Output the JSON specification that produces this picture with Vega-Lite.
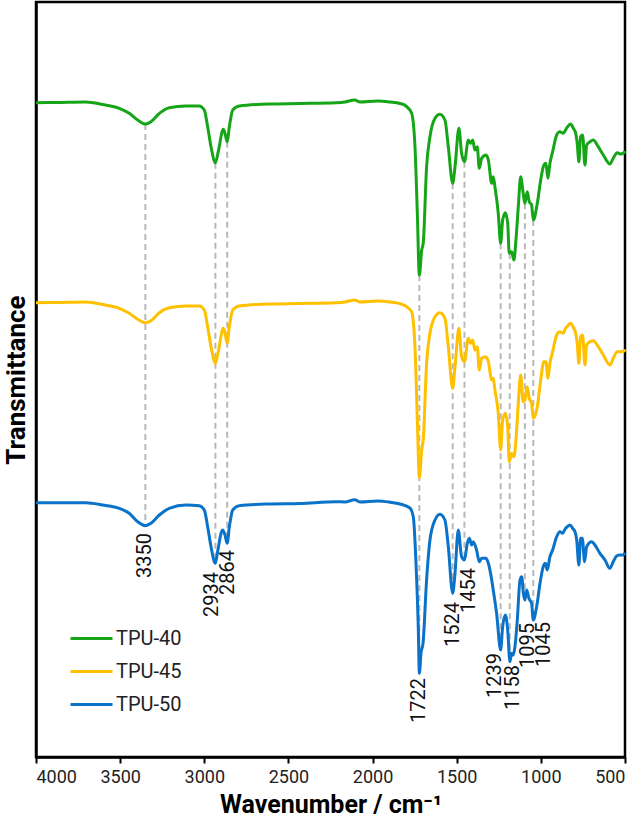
{
  "$schema": "https://vega.github.io/schema/vega-lite/v6.json",
  "width": 589,
  "height": 755,
  "autosize": {"type": "none"},
  "padding": {"left": 36, "top": 2, "right": 16, "bottom": 72},
  "background": "white",
  "config": {
    "view": {"stroke": "black", "strokeWidth": 2.5},
    "font": "Roboto",
    "axis": {"grid": false, "domainColor": "black", "domainWidth": 2.5, "tickColor": "black", "tickWidth": 2, "tickSize": 6, "labelColor": "#222222", "titleColor": "black"}
  },
  "datasets": {
    "curves": [
      {"s":"TPU-40","wn":4000,"t":654.3},{"s":"TPU-40","wn":3881,"t":654.5},{"s":"TPU-40","wn":3703,"t":655},{"s":"TPU-40","wn":3604,"t":652.5},{"s":"TPU-40","wn":3505,"t":648.7},{"s":"TPU-40","wn":3446,"t":643.7},{"s":"TPU-40","wn":3396,"t":637},{"s":"TPU-40","wn":3350,"t":633},{"s":"TPU-40","wn":3317,"t":635.3},{"s":"TPU-40","wn":3267,"t":643.7},{"s":"TPU-40","wn":3208,"t":649.3},{"s":"TPU-40","wn":3109,"t":651},{"s":"TPU-40","wn":3030,"t":651},{"s":"TPU-40","wn":3000,"t":647},{"s":"TPU-40","wn":2980,"t":630.3},{"s":"TPU-40","wn":2960,"t":610.3},{"s":"TPU-40","wn":2934,"t":594.3},{"s":"TPU-40","wn":2917,"t":605.3},{"s":"TPU-40","wn":2887,"t":627.7},{"s":"TPU-40","wn":2877,"t":623.7},{"s":"TPU-40","wn":2864,"t":615.3},{"s":"TPU-40","wn":2851,"t":630.3},{"s":"TPU-40","wn":2831,"t":647},{"s":"TPU-40","wn":2792,"t":651},{"s":"TPU-40","wn":2614,"t":653},{"s":"TPU-40","wn":2431,"t":653.5},{"s":"TPU-40","wn":2218,"t":654.3},{"s":"TPU-40","wn":2164,"t":655},{"s":"TPU-40","wn":2106,"t":657},{"s":"TPU-40","wn":2075,"t":655},{"s":"TPU-40","wn":1970,"t":656},{"s":"TPU-40","wn":1897,"t":655},{"s":"TPU-40","wn":1837,"t":653.5},{"s":"TPU-40","wn":1802,"t":651},{"s":"TPU-40","wn":1768,"t":643.7},{"s":"TPU-40","wn":1748,"t":610.3},{"s":"TPU-40","wn":1734,"t":543.7},{"s":"TPU-40","wn":1722,"t":482},{"s":"TPU-40","wn":1708,"t":507},{"s":"TPU-40","wn":1699,"t":513.7},{"s":"TPU-40","wn":1679,"t":590.3},{"s":"TPU-40","wn":1659,"t":620.3},{"s":"TPU-40","wn":1629,"t":638.7},{"s":"TPU-40","wn":1600,"t":642.7},{"s":"TPU-40","wn":1570,"t":637},{"s":"TPU-40","wn":1550,"t":610.3},{"s":"TPU-40","wn":1524,"t":573.7},{"s":"TPU-40","wn":1510,"t":590.3},{"s":"TPU-40","wn":1487,"t":628.7},{"s":"TPU-40","wn":1471,"t":603.7},{"s":"TPU-40","wn":1454,"t":595.3},{"s":"TPU-40","wn":1431,"t":617},{"s":"TPU-40","wn":1417,"t":613.7},{"s":"TPU-40","wn":1405,"t":617},{"s":"TPU-40","wn":1392,"t":607},{"s":"TPU-40","wn":1378,"t":610.3},{"s":"TPU-40","wn":1366,"t":588.7},{"s":"TPU-40","wn":1352,"t":598.7},{"s":"TPU-40","wn":1326,"t":602},{"s":"TPU-40","wn":1312,"t":597},{"s":"TPU-40","wn":1292,"t":573.7},{"s":"TPU-40","wn":1283,"t":580.3},{"s":"TPU-40","wn":1273,"t":570.3},{"s":"TPU-40","wn":1253,"t":543.7},{"s":"TPU-40","wn":1239,"t":513.7},{"s":"TPU-40","wn":1227,"t":537},{"s":"TPU-40","wn":1211,"t":544.3},{"s":"TPU-40","wn":1197,"t":533.7},{"s":"TPU-40","wn":1188,"t":503.7},{"s":"TPU-40","wn":1174,"t":505.3},{"s":"TPU-40","wn":1160,"t":497},{"s":"TPU-40","wn":1148,"t":517},{"s":"TPU-40","wn":1134,"t":550.3},{"s":"TPU-40","wn":1120,"t":580.3},{"s":"TPU-40","wn":1105,"t":563.7},{"s":"TPU-40","wn":1095,"t":553.7},{"s":"TPU-40","wn":1081,"t":565.3},{"s":"TPU-40","wn":1069,"t":555.3},{"s":"TPU-40","wn":1055,"t":552},{"s":"TPU-40","wn":1045,"t":537},{"s":"TPU-40","wn":1021,"t":553.7},{"s":"TPU-40","wn":1001,"t":577},{"s":"TPU-40","wn":982,"t":592},{"s":"TPU-40","wn":970,"t":593.7},{"s":"TPU-40","wn":958,"t":578.7},{"s":"TPU-40","wn":946,"t":593.7},{"s":"TPU-40","wn":930,"t":605.3},{"s":"TPU-40","wn":906,"t":622},{"s":"TPU-40","wn":887,"t":625.3},{"s":"TPU-40","wn":867,"t":623.7},{"s":"TPU-40","wn":853,"t":627},{"s":"TPU-40","wn":841,"t":630.3},{"s":"TPU-40","wn":823,"t":633},{"s":"TPU-40","wn":807,"t":628.7},{"s":"TPU-40","wn":793,"t":623.7},{"s":"TPU-40","wn":784,"t":613.7},{"s":"TPU-40","wn":774,"t":595.3},{"s":"TPU-40","wn":764,"t":620.3},{"s":"TPU-40","wn":752,"t":622},{"s":"TPU-40","wn":738,"t":592},{"s":"TPU-40","wn":728,"t":612},{"s":"TPU-40","wn":708,"t":615.3},{"s":"TPU-40","wn":689,"t":617},{"s":"TPU-40","wn":659,"t":610.3},{"s":"TPU-40","wn":629,"t":602},{"s":"TPU-40","wn":589,"t":593},{"s":"TPU-40","wn":570,"t":598.7},{"s":"TPU-40","wn":546,"t":604.3},{"s":"TPU-40","wn":526,"t":603},{"s":"TPU-40","wn":506,"t":604.3},{"s":"TPU-40","wn":500,"t":606},

      {"s":"TPU-45","wn":4000,"t":454.3},{"s":"TPU-45","wn":3881,"t":454.5},{"s":"TPU-45","wn":3703,"t":455},{"s":"TPU-45","wn":3604,"t":452.5},{"s":"TPU-45","wn":3505,"t":448.7},{"s":"TPU-45","wn":3446,"t":443.7},{"s":"TPU-45","wn":3396,"t":437.8},{"s":"TPU-45","wn":3350,"t":434.3},{"s":"TPU-45","wn":3317,"t":436.3},{"s":"TPU-45","wn":3267,"t":444.3},{"s":"TPU-45","wn":3208,"t":449.3},{"s":"TPU-45","wn":3109,"t":451},{"s":"TPU-45","wn":3030,"t":451},{"s":"TPU-45","wn":3000,"t":447},{"s":"TPU-45","wn":2980,"t":430.3},{"s":"TPU-45","wn":2960,"t":410.3},{"s":"TPU-45","wn":2934,"t":393.7},{"s":"TPU-45","wn":2917,"t":405.3},{"s":"TPU-45","wn":2887,"t":428.7},{"s":"TPU-45","wn":2877,"t":424.3},{"s":"TPU-45","wn":2864,"t":413.7},{"s":"TPU-45","wn":2851,"t":430.3},{"s":"TPU-45","wn":2831,"t":447},{"s":"TPU-45","wn":2792,"t":451},{"s":"TPU-45","wn":2614,"t":453},{"s":"TPU-45","wn":2431,"t":453.5},{"s":"TPU-45","wn":2218,"t":454.3},{"s":"TPU-45","wn":2164,"t":455},{"s":"TPU-45","wn":2106,"t":457},{"s":"TPU-45","wn":2075,"t":455},{"s":"TPU-45","wn":1970,"t":456},{"s":"TPU-45","wn":1897,"t":455},{"s":"TPU-45","wn":1837,"t":453.3},{"s":"TPU-45","wn":1802,"t":450.8},{"s":"TPU-45","wn":1768,"t":445.3},{"s":"TPU-45","wn":1748,"t":410.3},{"s":"TPU-45","wn":1734,"t":337},{"s":"TPU-45","wn":1722,"t":279.3},{"s":"TPU-45","wn":1708,"t":307},{"s":"TPU-45","wn":1699,"t":317},{"s":"TPU-45","wn":1679,"t":393.7},{"s":"TPU-45","wn":1659,"t":423.7},{"s":"TPU-45","wn":1629,"t":440.3},{"s":"TPU-45","wn":1600,"t":444.3},{"s":"TPU-45","wn":1570,"t":438.7},{"s":"TPU-45","wn":1550,"t":410.3},{"s":"TPU-45","wn":1524,"t":368.7},{"s":"TPU-45","wn":1510,"t":390.3},{"s":"TPU-45","wn":1487,"t":428.7},{"s":"TPU-45","wn":1471,"t":400.3},{"s":"TPU-45","wn":1454,"t":395.3},{"s":"TPU-45","wn":1431,"t":418.7},{"s":"TPU-45","wn":1417,"t":413.7},{"s":"TPU-45","wn":1405,"t":417},{"s":"TPU-45","wn":1392,"t":407},{"s":"TPU-45","wn":1378,"t":410.3},{"s":"TPU-45","wn":1366,"t":387},{"s":"TPU-45","wn":1352,"t":398.7},{"s":"TPU-45","wn":1326,"t":400.3},{"s":"TPU-45","wn":1312,"t":395.3},{"s":"TPU-45","wn":1292,"t":377},{"s":"TPU-45","wn":1283,"t":378.7},{"s":"TPU-45","wn":1273,"t":367},{"s":"TPU-45","wn":1253,"t":343.7},{"s":"TPU-45","wn":1239,"t":307},{"s":"TPU-45","wn":1227,"t":337},{"s":"TPU-45","wn":1211,"t":343.7},{"s":"TPU-45","wn":1197,"t":330.3},{"s":"TPU-45","wn":1188,"t":295.3},{"s":"TPU-45","wn":1174,"t":303.7},{"s":"TPU-45","wn":1160,"t":300.3},{"s":"TPU-45","wn":1148,"t":317},{"s":"TPU-45","wn":1134,"t":353.7},{"s":"TPU-45","wn":1120,"t":382},{"s":"TPU-45","wn":1105,"t":355.3},{"s":"TPU-45","wn":1095,"t":357},{"s":"TPU-45","wn":1081,"t":370.3},{"s":"TPU-45","wn":1069,"t":358.7},{"s":"TPU-45","wn":1055,"t":353.7},{"s":"TPU-45","wn":1045,"t":338.7},{"s":"TPU-45","wn":1021,"t":350.3},{"s":"TPU-45","wn":1001,"t":377},{"s":"TPU-45","wn":982,"t":395.3},{"s":"TPU-45","wn":970,"t":395.3},{"s":"TPU-45","wn":958,"t":378.7},{"s":"TPU-45","wn":946,"t":393.7},{"s":"TPU-45","wn":930,"t":405.3},{"s":"TPU-45","wn":906,"t":422},{"s":"TPU-45","wn":887,"t":425.3},{"s":"TPU-45","wn":867,"t":423.7},{"s":"TPU-45","wn":853,"t":428.7},{"s":"TPU-45","wn":841,"t":431},{"s":"TPU-45","wn":823,"t":433.7},{"s":"TPU-45","wn":807,"t":429.7},{"s":"TPU-45","wn":793,"t":423.7},{"s":"TPU-45","wn":784,"t":413.7},{"s":"TPU-45","wn":774,"t":393.7},{"s":"TPU-45","wn":764,"t":420.3},{"s":"TPU-45","wn":752,"t":422},{"s":"TPU-45","wn":738,"t":392},{"s":"TPU-45","wn":728,"t":412},{"s":"TPU-45","wn":708,"t":415.3},{"s":"TPU-45","wn":689,"t":416.3},{"s":"TPU-45","wn":659,"t":410.3},{"s":"TPU-45","wn":629,"t":402},{"s":"TPU-45","wn":589,"t":392},{"s":"TPU-45","wn":570,"t":398.7},{"s":"TPU-45","wn":546,"t":405.3},{"s":"TPU-45","wn":526,"t":405.3},{"s":"TPU-45","wn":506,"t":406},{"s":"TPU-45","wn":500,"t":407.7},

      {"s":"TPU-50","wn":4000,"t":254.3},{"s":"TPU-50","wn":3881,"t":254.3},{"s":"TPU-50","wn":3703,"t":254.3},{"s":"TPU-50","wn":3604,"t":252},{"s":"TPU-50","wn":3505,"t":248.7},{"s":"TPU-50","wn":3446,"t":243.7},{"s":"TPU-50","wn":3396,"t":235.3},{"s":"TPU-50","wn":3350,"t":231.3},{"s":"TPU-50","wn":3317,"t":233.7},{"s":"TPU-50","wn":3267,"t":242},{"s":"TPU-50","wn":3208,"t":248.7},{"s":"TPU-50","wn":3109,"t":252},{"s":"TPU-50","wn":3030,"t":251.3},{"s":"TPU-50","wn":3000,"t":247},{"s":"TPU-50","wn":2980,"t":230.3},{"s":"TPU-50","wn":2960,"t":210.3},{"s":"TPU-50","wn":2934,"t":193.7},{"s":"TPU-50","wn":2921,"t":205.3},{"s":"TPU-50","wn":2891,"t":227},{"s":"TPU-50","wn":2877,"t":222},{"s":"TPU-50","wn":2864,"t":213.7},{"s":"TPU-50","wn":2851,"t":230.3},{"s":"TPU-50","wn":2831,"t":247},{"s":"TPU-50","wn":2792,"t":251.3},{"s":"TPU-50","wn":2614,"t":253},{"s":"TPU-50","wn":2431,"t":253.5},{"s":"TPU-50","wn":2218,"t":255.3},{"s":"TPU-50","wn":2164,"t":255},{"s":"TPU-50","wn":2106,"t":257.3},{"s":"TPU-50","wn":2075,"t":255},{"s":"TPU-50","wn":1970,"t":256},{"s":"TPU-50","wn":1897,"t":254.8},{"s":"TPU-50","wn":1837,"t":253},{"s":"TPU-50","wn":1778,"t":249},{"s":"TPU-50","wn":1758,"t":240.3},{"s":"TPU-50","wn":1742,"t":194},{"s":"TPU-50","wn":1728,"t":127},{"s":"TPU-50","wn":1722,"t":83.7},{"s":"TPU-50","wn":1712,"t":104},{"s":"TPU-50","wn":1700,"t":114},{"s":"TPU-50","wn":1679,"t":177},{"s":"TPU-50","wn":1659,"t":217},{"s":"TPU-50","wn":1629,"t":237},{"s":"TPU-50","wn":1600,"t":242.7},{"s":"TPU-50","wn":1570,"t":237},{"s":"TPU-50","wn":1550,"t":210.3},{"s":"TPU-50","wn":1524,"t":163.7},{"s":"TPU-50","wn":1510,"t":184},{"s":"TPU-50","wn":1491,"t":227},{"s":"TPU-50","wn":1471,"t":200.3},{"s":"TPU-50","wn":1454,"t":197},{"s":"TPU-50","wn":1437,"t":213.7},{"s":"TPU-50","wn":1425,"t":218.7},{"s":"TPU-50","wn":1411,"t":212},{"s":"TPU-50","wn":1402,"t":215.3},{"s":"TPU-50","wn":1382,"t":207},{"s":"TPU-50","wn":1366,"t":195.3},{"s":"TPU-50","wn":1352,"t":198.7},{"s":"TPU-50","wn":1326,"t":198.7},{"s":"TPU-50","wn":1312,"t":193.7},{"s":"TPU-50","wn":1292,"t":177},{"s":"TPU-50","wn":1283,"t":167},{"s":"TPU-50","wn":1263,"t":143.7},{"s":"TPU-50","wn":1239,"t":107},{"s":"TPU-50","wn":1227,"t":130.3},{"s":"TPU-50","wn":1211,"t":142},{"s":"TPU-50","wn":1197,"t":127},{"s":"TPU-50","wn":1184,"t":95.3},{"s":"TPU-50","wn":1174,"t":103.7},{"s":"TPU-50","wn":1164,"t":102},{"s":"TPU-50","wn":1154,"t":110.3},{"s":"TPU-50","wn":1140,"t":137},{"s":"TPU-50","wn":1124,"t":177},{"s":"TPU-50","wn":1114,"t":180.3},{"s":"TPU-50","wn":1104,"t":163.7},{"s":"TPU-50","wn":1095,"t":157},{"s":"TPU-50","wn":1084,"t":167},{"s":"TPU-50","wn":1071,"t":158.7},{"s":"TPU-50","wn":1055,"t":153.7},{"s":"TPU-50","wn":1045,"t":137},{"s":"TPU-50","wn":1025,"t":150.3},{"s":"TPU-50","wn":1005,"t":173.7},{"s":"TPU-50","wn":986,"t":190.3},{"s":"TPU-50","wn":972,"t":193.7},{"s":"TPU-50","wn":962,"t":187},{"s":"TPU-50","wn":946,"t":200.3},{"s":"TPU-50","wn":930,"t":207},{"s":"TPU-50","wn":906,"t":220.3},{"s":"TPU-50","wn":887,"t":225.3},{"s":"TPU-50","wn":871,"t":223.7},{"s":"TPU-50","wn":857,"t":227.7},{"s":"TPU-50","wn":843,"t":230.3},{"s":"TPU-50","wn":827,"t":232},{"s":"TPU-50","wn":811,"t":228.7},{"s":"TPU-50","wn":797,"t":225.3},{"s":"TPU-50","wn":787,"t":217},{"s":"TPU-50","wn":774,"t":192},{"s":"TPU-50","wn":764,"t":218.7},{"s":"TPU-50","wn":754,"t":218.7},{"s":"TPU-50","wn":740,"t":195.3},{"s":"TPU-50","wn":728,"t":210.3},{"s":"TPU-50","wn":698,"t":215.3},{"s":"TPU-50","wn":679,"t":212},{"s":"TPU-50","wn":649,"t":203.7},{"s":"TPU-50","wn":619,"t":197},{"s":"TPU-50","wn":590,"t":188.7},{"s":"TPU-50","wn":570,"t":195.3},{"s":"TPU-50","wn":550,"t":201},{"s":"TPU-50","wn":530,"t":202},{"s":"TPU-50","wn":511,"t":202},{"s":"TPU-50","wn":500,"t":204.3}
    ],
    "peaks": [
      {"peak":"3350","wn":3350,"top":633,"bottom":231.3},
      {"peak":"2934","wn":2934,"top":594.3,"bottom":193.7},
      {"peak":"2864","wn":2864,"top":615.3,"bottom":213.7},
      {"peak":"1722","wn":1722,"top":482,"bottom":83.7},
      {"peak":"1524","wn":1524,"top":573.7,"bottom":163.7},
      {"peak":"1454","wn":1454,"top":595.3,"bottom":197},
      {"peak":"1239","wn":1239,"top":513.7,"bottom":107},
      {"peak":"1158","wn":1185,"top":503.7,"bottom":95.3},
      {"peak":"1095","wn":1095,"top":553.7,"bottom":157},
      {"peak":"1045","wn":1045,"top":537,"bottom":137}
    ],
    "labels": [
      {"label":"3350","wn":3350,"t":224},
      {"label":"2934","wn":2954,"t":185},
      {"label":"2864","wn":2859,"t":207},
      {"label":"1722","wn":1723,"t":79},
      {"label":"1524","wn":1524,"t":155},
      {"label":"1454","wn":1426,"t":189},
      {"label":"1239","wn":1273,"t":104},
      {"label":"1158","wn":1164,"t":92},
      {"label":"1095","wn":1075,"t":134},
      {"label":"1045","wn":982,"t":135}
    ]
  },
  "layer": [
    {
      "data": {"name": "peaks"},
      "mark": {"type": "rule", "color": "#b8b8b8", "strokeWidth": 2, "strokeDash": [6, 4]},
      "encoding": {
        "x": {"field": "wn", "type": "quantitative"},
        "y": {"field": "top", "type": "quantitative"},
        "y2": {"field": "bottom"}
      }
    },
    {
      "data": {"name": "curves"},
      "mark": {"type": "line", "strokeWidth": 3, "interpolate": "monotone"},
      "encoding": {
        "x": {
          "field": "wn", "type": "quantitative",
          "scale": {"domain": [500, 4000], "reverse": true, "nice": false, "zero": false},
          "axis": {"values": [4000, 3500, 3000, 2500, 2000, 1500, 1000, 500], "format": "d", "labelFontSize": 18, "labelPadding": 5, "title": "Wavenumber / cm⁻¹", "titleFontSize": 25, "titleFontWeight": "bold", "titlePadding": 6}
        },
        "y": {
          "field": "t", "type": "quantitative",
          "scale": {"domain": [0, 755], "nice": false, "zero": false},
          "axis": {"labels": false, "ticks": false, "title": "Transmittance", "titleFontSize": 26, "titleFontWeight": "bold", "titlePadding": 7}
        },
        "color": {
          "field": "s", "type": "nominal",
          "scale": {"domain": ["TPU-40", "TPU-45", "TPU-50"], "range": ["#16a517", "#ffc000", "#0a72c8"]},
          "legend": {
            "title": null, "orient": "none", "legendX": 33, "legendY": 614,
            "symbolType": "stroke", "symbolSize": 1764, "symbolStrokeWidth": 3,
            "labelFontSize": 20, "labelColor": "#222222", "labelOffset": 2, "rowPadding": 0, "padding": 0
          }
        }
      }
    },
    {
      "data": {"name": "labels"},
      "mark": {"type": "text", "angle": 270, "align": "right", "baseline": "middle", "fontSize": 20, "color": "#111111"},
      "encoding": {
        "x": {"field": "wn", "type": "quantitative"},
        "y": {"field": "t", "type": "quantitative"},
        "text": {"field": "label"}
      }
    }
  ]
}
